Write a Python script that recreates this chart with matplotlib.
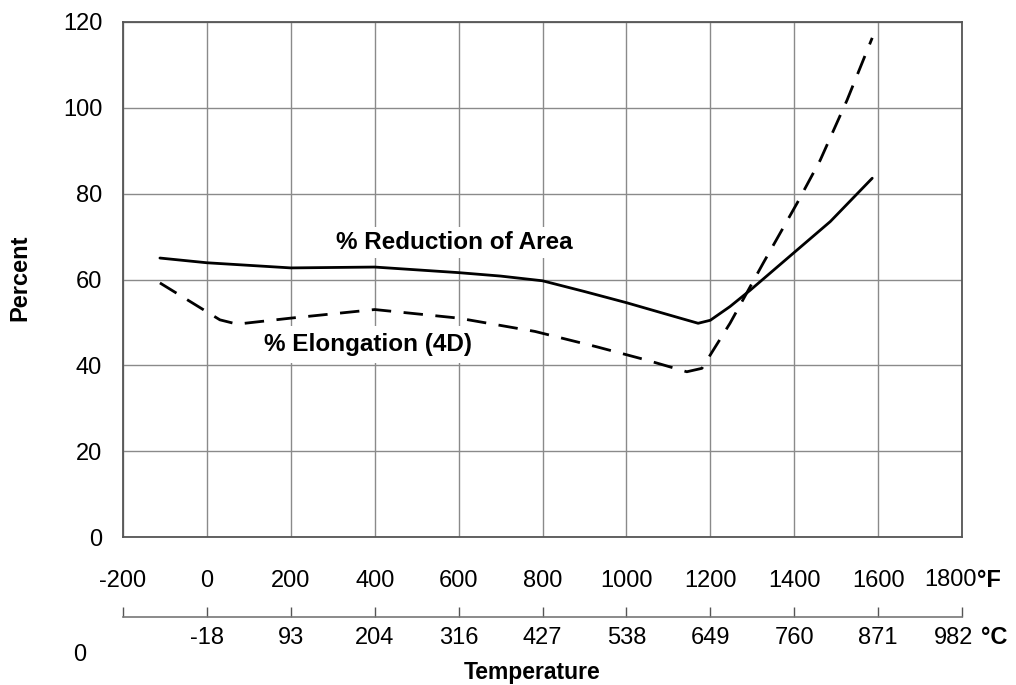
import matplotlib
matplotlib.use("Agg")
import matplotlib.pyplot as plt
import matplotlib.transforms as mtransforms

plt.rcParams['font.family'] = ['Liberation Sans', 'DejaVu Sans']

# temperature ticks (deg F) and the matching deg C labels
temp_f = [-200, 0, 200, 400, 600, 800, 1000, 1200, 1400, 1600, 1800]
temp_c = ["", "-18", "93", "204", "316", "427", "538", "649", "760", "871", "982"]
pct_ticks = [0, 20, 40, 60, 80, 100, 120]

# % reduction of area (solid)
ra_f = [-112, 0, 200, 400, 600, 700, 800, 900, 1000, 1128, 1171, 1200, 1247, 1295, 1400, 1486, 1586]
ra_pct = [65, 63.9, 62.7, 62.9, 61.6, 60.8, 59.7, 57.2, 54.6, 51, 49.8, 50.5, 53.7, 57.5, 66.3, 73.5, 83.6]

# % elongation 4D (dashed)
el_f = [-112, 31, 72, 200, 400, 600, 782, 930, 1049, 1144, 1180, 1247, 1326, 1407, 1462, 1526, 1586]
el_pct = [59.2, 50.6, 49.6, 51, 53, 51, 47.9, 44.3, 41.2, 38.5, 39.3, 49.8, 63.8, 77.8, 87.8, 101.8, 116.3]

fig = plt.figure(figsize=(10.16, 6.85), dpi=100)
ax = fig.add_axes([123 / 1016, 1 - 537 / 685, 839 / 1016, 515 / 685])

ax.plot(ra_f, ra_pct, color='black', lw=2.0, solid_capstyle='round',
        solid_joinstyle='round', zorder=3)
ax.plot(el_f, el_pct, color='black', lw=2.0, dashes=(7, 4.5), zorder=3)

ax.set_xlim(-200, 1800)
ax.set_ylim(0, 120)
ax.set_xticks(temp_f)
ax.set_xticklabels([str(t) for t in temp_f[:-1]] + [""])
ax.set_yticks(pct_ticks)
ax.grid(True, color='#8a8a8a', lw=1.0)
ax.tick_params(axis='both', length=0, labelsize=17)
ax.tick_params(axis='x', pad=24)
ax.tick_params(axis='y', pad=15)
for s in ax.spines.values():
    s.set_color('#555555')
    s.set_linewidth(1.3)

ax.text(590, 68.6, "% Reduction of Area", ha='center', va='center', fontsize=17.5,
        fontweight='bold', zorder=4,
        bbox=dict(facecolor='white', edgecolor='none', pad=3))
ax.text(384, 44.8, "% Elongation (4D)", ha='center', va='center', fontsize=17.5,
        fontweight='bold', zorder=2,
        bbox=dict(facecolor='white', edgecolor='none', pad=5))

# deg C scale below
sec = ax.secondary_xaxis(-0.155)
sec.set_xticks(temp_f)
sec.set_xticklabels(temp_c[:-1] + [""])
sec.tick_params(direction='in', length=7, width=1, color='#555555', labelsize=17, pad=7)
sec.spines['bottom'].set_color('#777777')
sec.spines['bottom'].set_linewidth(1.2)

trans = mtransforms.blended_transform_factory(ax.transData, ax.transAxes)
ax.text(1836, -0.084, "1800", transform=trans, ha='right', va='center', fontsize=17)
ax.text(1836, -0.084, "°F", transform=trans, ha='left', va='center', fontsize=17, fontweight='bold')
ax.text(1826, -0.1955, "982", transform=trans, ha='right', va='center', fontsize=17)
ax.text(1845, -0.1955, "°C", transform=trans, ha='left', va='center', fontsize=17, fontweight='bold')

fig.text(20 / 1016, 1 - 278 / 685, "Percent", rotation=90, ha='center', va='center',
         fontsize=17, fontweight='bold')
fig.text(532 / 1016, 1 - 672 / 685, "Temperature", ha='center', va='center',
         fontsize=16.5, fontweight='bold')
fig.text(80 / 1016, 1 - 655 / 685, "0", ha='center', va='center', fontsize=17)

fig.savefig("out.png", dpi=100)
